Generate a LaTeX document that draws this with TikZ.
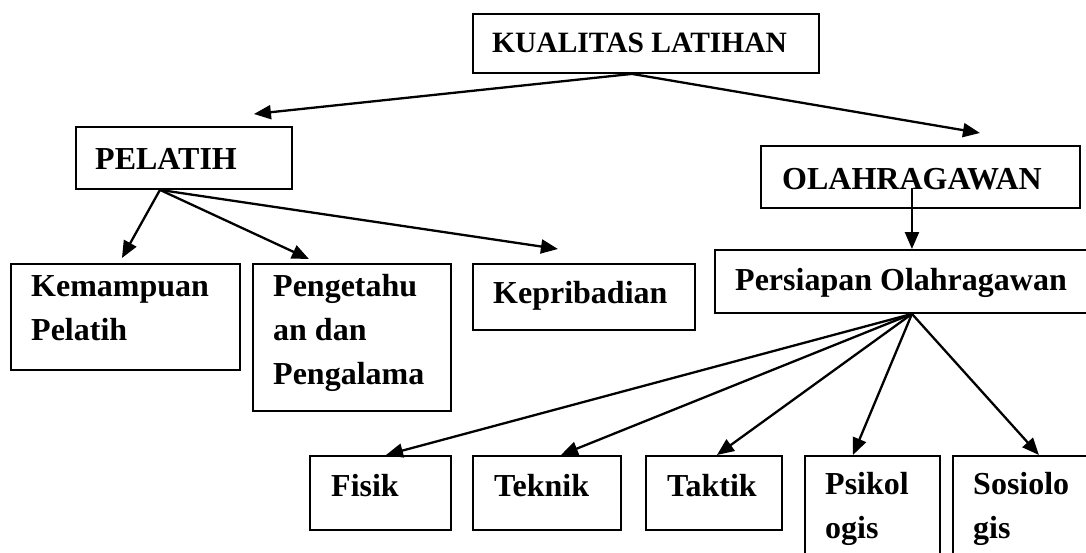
\documentclass[tikz,border=0pt]{standalone}
\usepackage{fontspec}
\setmainfont{Liberation Serif}
\usetikzlibrary{arrows.meta}
\newcommand\mybox[5]{\node[boxst, minimum width=#4pt, minimum height=#5pt] (#1) at (#2,#3) {};}
\begin{document}
\begin{tikzpicture}[x=1pt,y=-1pt,
  boxst/.style={draw, line width=1.9pt, inner sep=0pt, anchor=north west},
  txt/.style={font=\fontsize{32}{44}\selectfont\bfseries, anchor=base west, inner sep=0pt, align=left},
  arr/.style={line width=2.3pt, -{Triangle[length=17pt,width=14pt]}}]
\useasboundingbox (0,0) rectangle (1086,552);
\clip (0,0) rectangle (1086,552);
% boxes
\mybox{kual}{472}{13}{346}{59}
\mybox{pel}{75}{126}{216}{62}
\mybox{ola}{760}{145}{319}{62}
\mybox{kem}{10}{263}{229}{106}
\mybox{peng}{252}{263}{198}{147}
\mybox{kep}{472}{263}{222}{66}
\mybox{pers}{714}{249}{400}{63}
\mybox{fis}{309}{455}{141}{74}
\mybox{tek}{472}{455}{148}{74}
\mybox{tak}{645}{455}{136}{74}
\mybox{psi}{804}{455}{135}{130}
\mybox{sos}{952}{455}{160}{130}
% texts (base = baseline of the last line)
\node[txt, font=\fontsize{29.5}{44}\selectfont\bfseries] (tkual) at (492,52) {KUALITAS LATIHAN};
\node[txt] (tpel) at (95,169) {PELATIH};
\node[txt] (tola) at (782,189) {OLAHRAGAWAN};
\node[txt] (tkem) at (31,340) {Kemampuan\\Pelatih};
\node[txt] (tpeng) at (273,384) {Pengetahu\\an dan\\Pengalama};
\node[txt] (tkep) at (493,303) {Kepribadian};
\node[txt] (tpers) at (735,290) {Persiapan Olahragawan};
\node[txt] (tfis) at (331,496) {Fisik};
\node[txt] (ttek) at (494,496) {Teknik};
\node[txt] (ttak) at (667,496) {Taktik};
\node[txt] (tpsi) at (825,538) {Psikol\\ogis};
\node[txt] (tsos) at (973,538) {Sosiolo\\gis};
% arrows
\draw[arr] ([xshift=-14pt]kual.south) -- ([xshift=70pt,yshift=12pt]pel.north);
\draw[arr] ([xshift=-14pt]kual.south) -- ([xshift=59.5pt,yshift=12pt]ola.north);
\draw[arr] ([xshift=-8.5pt,yshift=-11pt]ola.center) -- ([xshift=-3pt]pers.north);
\draw[arr] ([xshift=-24pt]pel.south) -- ([xshift=-3.5pt,yshift=5pt]kem.north);
\draw[arr] ([xshift=-24pt]pel.south) -- ([xshift=-43pt,yshift=4pt]peng.north);
\draw[arr] ([xshift=-24pt]pel.south) -- ([xshift=-26pt,yshift=14pt]kep.north);
\draw[arr] ([xshift=-3pt]pers.south) -- ([xshift=5.5pt]fis.north);
\draw[arr] ([xshift=-3pt]pers.south) -- ([xshift=14pt]tek.north);
\draw[arr] ([xshift=-3pt]pers.south) -- ([xshift=3pt]tak.north);
\draw[arr] ([xshift=-3pt]pers.south) -- ([xshift=-19.5pt]psi.north);
\draw[arr] ([xshift=-3pt]pers.south) -- ([xshift=6pt]sos.north);
\end{tikzpicture}
\end{document}
